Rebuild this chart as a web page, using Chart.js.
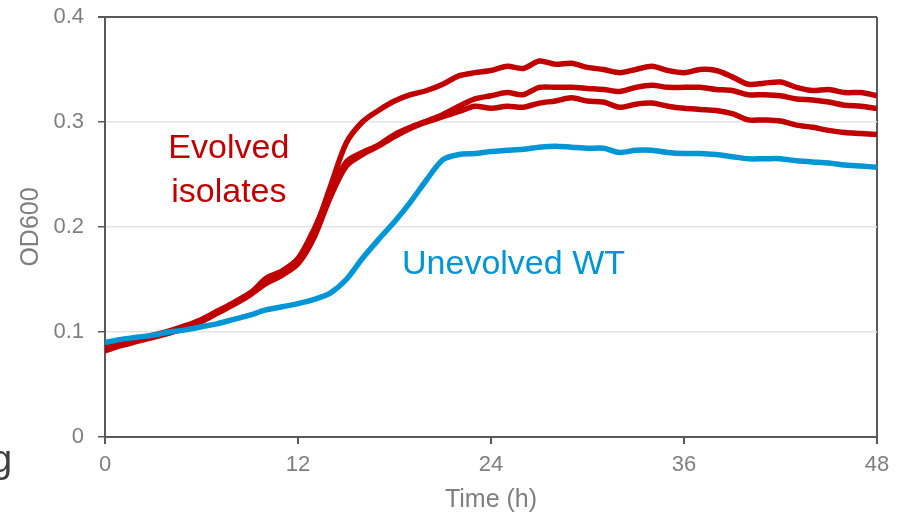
<!DOCTYPE html>
<html>
<head>
<meta charset="utf-8">
<script src="https://cdn.jsdelivr.net/npm/chart.js@4.4.1/dist/chart.umd.min.js"></script>
<style>
  html, body { margin: 0; padding: 0; background: #ffffff; }
  #wrap { width: 901px; height: 517px; position: relative; }
</style>
</head>
<body>
<div id="wrap"><canvas id="growthChart"></canvas></div>
<script>
// Growth curves: OD600 over 48 h, three evolved isolates vs unevolved WT

const hours = [0,1,2,3,4,5,6,7,8,9,10,11,12,13,14,15,16,17,18,19,20,21,22,23,24,
               25,26,27,28,29,30,31,32,33,34,35,36,37,38,39,40,41,42,43,44,45,46,47,48];

const evolvedA = [0.087,0.090,0.093,0.097,0.101,0.106,0.112,0.120,0.128,0.137,0.148,0.156,0.168,0.196,0.238,
                  0.280,0.300,0.311,0.320,0.326,0.330,0.336,0.344,0.347,0.349,0.353,0.351,0.358,0.355,0.356,
                  0.352,0.350,0.347,0.350,0.353,0.349,0.347,0.350,0.349,0.343,0.336,0.337,0.338,0.333,0.330,
                  0.331,0.328,0.328,0.325];
const evolvedB = [0.086,0.089,0.092,0.096,0.100,0.105,0.111,0.119,0.127,0.136,0.151,0.158,0.170,0.198,0.232,
                  0.262,0.271,0.278,0.288,0.295,0.301,0.307,0.315,0.322,0.325,0.328,0.326,0.333,0.333,0.333,
                  0.332,0.331,0.329,0.333,0.335,0.333,0.333,0.333,0.331,0.330,0.326,0.326,0.325,0.322,0.321,
                  0.319,0.316,0.315,0.313];
const evolvedC = [0.082,0.087,0.091,0.095,0.099,0.104,0.110,0.118,0.126,0.135,0.146,0.154,0.165,0.190,0.228,
                  0.258,0.269,0.277,0.286,0.294,0.300,0.305,0.310,0.315,0.313,0.315,0.314,0.318,0.320,0.323,
                  0.320,0.319,0.314,0.317,0.318,0.315,0.313,0.312,0.311,0.308,0.302,0.302,0.301,0.297,0.295,
                  0.292,0.290,0.289,0.288];
const unevolvedWT = [0.090,0.093,0.095,0.097,0.100,0.102,0.105,0.108,0.112,0.116,0.121,0.124,0.127,0.131,0.137,
                     0.150,0.170,0.188,0.205,0.224,0.245,0.264,0.269,0.270,0.272,0.273,0.274,0.276,0.277,0.276,
                     0.275,0.275,0.271,0.273,0.273,0.271,0.270,0.270,0.269,0.267,0.265,0.265,0.265,0.263,0.262,
                     0.261,0.259,0.258,0.257];

const xTicks = [0, 12, 24, 36, 48];
const yTicks = [0, 0.1, 0.2, 0.3, 0.4];

const RED = '#c00000';
const BLUE = '#0096d6';
const AXIS = '#595959';
const GRID = '#e3e3e3';
const LABEL = '#7f7f7f';
const FONT = '"Liberation Sans", Arial, sans-serif';

function toPoints(values) {
    return hours.map((h, i) => ({ x: h, y: values[i] }));
}

function lineSet(label, values, color) {
    return {
        label: label,
        data: toPoints(values),
        borderColor: color,
        backgroundColor: color,
        borderWidth: 5.5,
        pointRadius: 0,
        tension: 0.3,
        fill: false
    };
}

// free text labels, placed in data coordinates
const notes = [
    { text: 'Evolved', x: 7.7, y: 0.275, color: RED },
    { text: 'isolates', x: 7.7, y: 0.233, color: RED },
    { text: 'Unevolved WT', x: 25.4, y: 0.164, color: BLUE }
];

const notePlugin = {
    id: 'notes',
    afterDatasetsDraw(chart) {
        const ctx = chart.ctx;
        const xs = chart.scales.x, ys = chart.scales.y;
        ctx.save();
        ctx.font = '34px ' + FONT;
        ctx.textAlign = 'center';
        ctx.textBaseline = 'middle';
        notes.forEach(n => {
            ctx.fillStyle = n.color;
            ctx.fillText(n.text, xs.getPixelForValue(n.x), ys.getPixelForValue(n.y));
        });
        // stray cut-off letter at the left edge
        ctx.fillStyle = '#404040';
        ctx.textAlign = 'left';
        ctx.textBaseline = 'alphabetic';
        ctx.font = '38px ' + FONT;
        ctx.fillText('g', -9, 472);
        ctx.restore();
    }
};

const ctx = document.getElementById('growthChart').getContext('2d');

new Chart(ctx, {
    type: 'line',
    data: {
        datasets: [
            lineSet('Unevolved WT', unevolvedWT, BLUE),
            lineSet('Evolved 3', evolvedC, RED),
            lineSet('Evolved 2', evolvedB, RED),
            lineSet('Evolved 1', evolvedA, RED)
        ]
    },
    options: {
        responsive: true,
        maintainAspectRatio: false,
        animation: false,
        layout: { padding: { top: 17, right: 24, left: 0, bottom: 0 } },
        plugins: {
            legend: { display: false },
            tooltip: { enabled: false }
        },
        scales: {
            x: {
                type: 'linear',
                min: 0,
                max: 48,
                afterBuildTicks: axis => { axis.ticks = xTicks.map(v => ({ value: v })); },
                afterFit: axis => { axis.height = 80; },
                border: { color: AXIS, width: 2 },
                grid: {
                    color: c => (c.tick && c.tick.value === 48 ? AXIS : 'rgba(0,0,0,0)'),
                    lineWidth: 2,
                    tickColor: AXIS,
                    tickLength: 7
                },
                ticks: {
                    color: LABEL,
                    font: { family: FONT, size: 22 },
                    padding: 8,
                    maxRotation: 0
                },
                title: {
                    display: true,
                    text: 'Time (h)',
                    color: LABEL,
                    font: { family: FONT, size: 25 },
                    padding: { top: 0, bottom: 2 }
                }
            },
            y: {
                min: 0,
                max: 0.4,
                afterBuildTicks: axis => { axis.ticks = yTicks.map(v => ({ value: v })); },
                afterFit: axis => {
                    axis.width = 105;
                    axis.paddingTop = 0;
                    axis.paddingBottom = 0;
                },
                border: { color: AXIS, width: 2 },
                grid: {
                    color: c => (c.tick && Math.abs(c.tick.value - 0.4) < 1e-6 ? AXIS : GRID),
                    lineWidth: c => (c.tick && Math.abs(c.tick.value - 0.4) < 1e-6 ? 2 : 1.5),
                    tickColor: AXIS,
                    tickLength: 7
                },
                ticks: {
                    color: LABEL,
                    font: { family: FONT, size: 22 },
                    padding: 14,
                    callback: v => (v === 0 ? '0' : v.toFixed(1))
                },
                title: {
                    display: true,
                    text: 'OD600',
                    color: LABEL,
                    font: { family: FONT, size: 25 },
                    padding: { top: 16, bottom: 0 }
                }
            }
        }
    },
    plugins: [notePlugin]
});
</script>
</body>
</html>
